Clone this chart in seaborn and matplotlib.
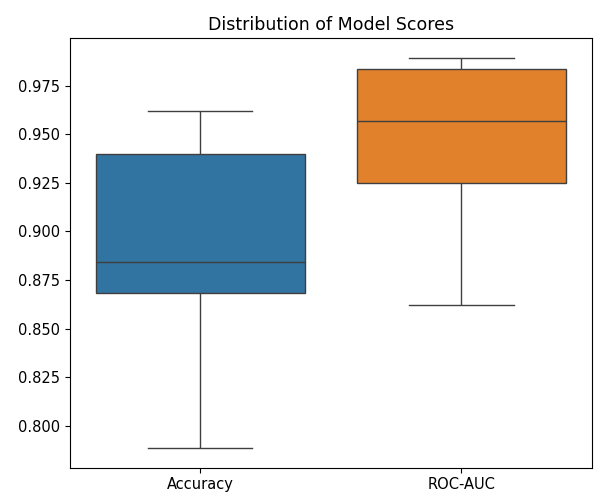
import matplotlib
matplotlib.use("Agg")
import matplotlib.pyplot as plt
import seaborn as sns
import pandas as pd

metrics = ["Accuracy", "ROC-AUC"]
accuracy_scores = [0.7885, 0.8681, 0.8842, 0.9397, 0.9620]
rocauc_scores = [0.8622, 0.9247, 0.9566, 0.9838, 0.9895]

df = pd.DataFrame({
    "Metric": [metrics[0]] * len(accuracy_scores) + [metrics[1]] * len(rocauc_scores),
    "Score": accuracy_scores + rocauc_scores,
})

fig = plt.figure(figsize=(5.95, 4.93), dpi=100)
ax = fig.add_axes([69.5 / 595, 1 - 467.7 / 493, (592 - 69.5) / 595, (467.7 - 38) / 493])
sns.boxplot(data=df, x="Metric", y="Score", hue="Metric", palette=["#1f77b4", "#ff7f0e"],
            legend=False, ax=ax)
ax.set_xlabel("")
ax.set_ylabel("")
ax.set_title("Distribution of Model Scores", fontsize=12.5)
ax.tick_params(labelsize=10.5)
fig.savefig("out.png", dpi=100)
